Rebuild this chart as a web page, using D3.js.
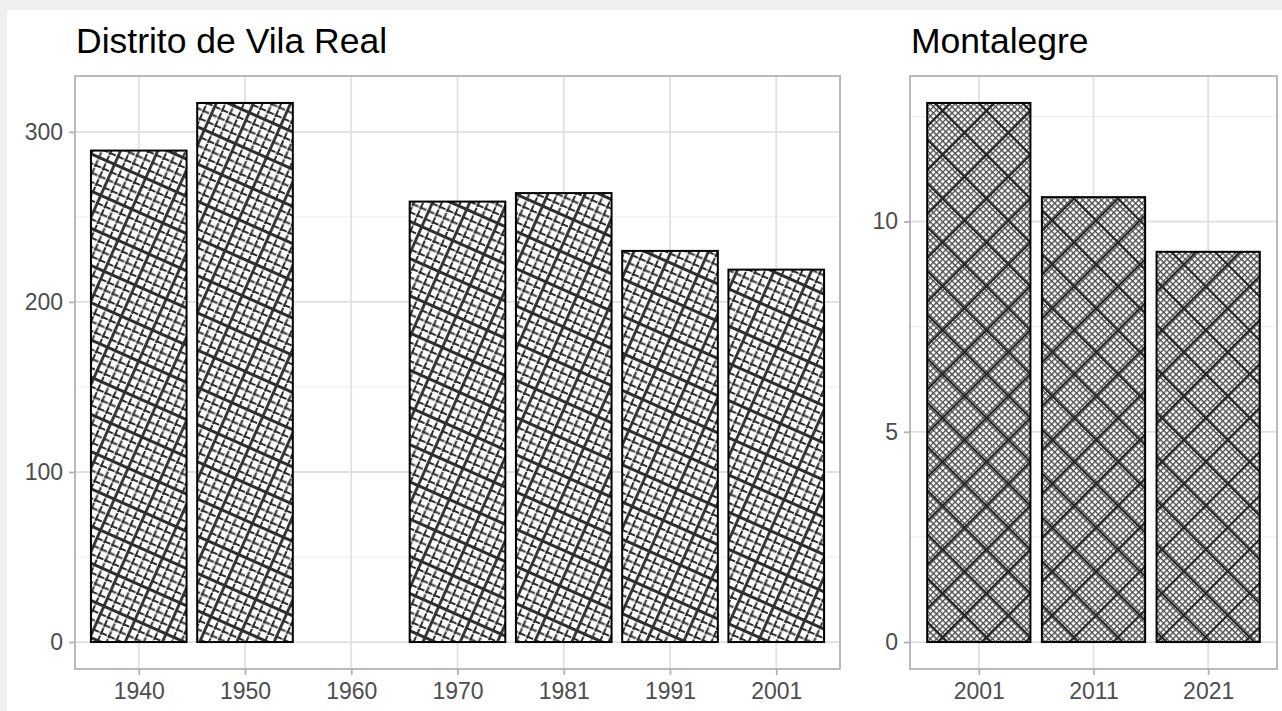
<!DOCTYPE html>
<html>
<head>
<meta charset="utf-8">
<script src="https://cdn.jsdelivr.net/npm/d3@7"></script>
<style>
  html, body { margin: 0; padding: 0; background: #f0f0f0; }
  svg { display: block; }
  text { font-family: "Liberation Sans", Arial, sans-serif; }
</style>
</head>
<body>
<div id="chart-container"></div>
<script>
// data
const districtYears = ["1940", "1950", "1960", "1970", "1981", "1991", "2001"];
const districtValues = [289, 317, null, 259, 264, 230, 219];
const districtTicks = [0, 100, 200, 300];
const districtMinor = [50, 150, 250];

const montalegreYears = ["2001", "2011", "2021"];
const montalegreValues = [12.82, 10.58, 9.28];
const montalegreTicks = [0, 5, 10];
const montalegreMinor = [2.5, 7.5, 12.5];

const width = 1282, height = 711;

const container = document.getElementById("chart-container");
const svg = d3.select(container)
  .append("svg")
    .attr("width", width)
    .attr("height", height)
    .attr("xmlns", "http://www.w3.org/2000/svg");

// white plot background, grey strip top and left
svg.append("rect")
  .attr("x", 0).attr("y", 0).attr("width", width).attr("height", height)
  .attr("fill", "#f0f0f0");
svg.append("rect")
  .attr("x", 7).attr("y", 10).attr("width", width - 7).attr("height", height - 10)
  .attr("fill", "#ffffff");

const defs = svg.append("defs");

// pattern for the district bars: slanted grid, a heavier line now and then
const cell = 8.5;
const gridPat = defs.append("pattern")
  .attr("id", "pat-grid")
  .attr("patternUnits", "userSpaceOnUse")
  .attr("width", cell * 4).attr("height", cell * 4)
  .attr("patternTransform", "rotate(24)");
gridPat.append("rect").attr("width", cell * 4).attr("height", cell * 4).attr("fill", "#fff");
for (let i = 0; i < 4; i++) {
  const p = i * cell + 1.5;
  const heavy = i == 0;
  gridPat.append("line")
    .attr("x1", 0).attr("x2", cell * 4).attr("y1", p).attr("y2", p)
    .attr("stroke", "#2e2e2e")
    .attr("stroke-width", heavy ? 3 : 2)
    .attr("stroke-dasharray", heavy ? null : "7.5 1");
  gridPat.append("line")
    .attr("y1", 0).attr("y2", cell * 4).attr("x1", p).attr("x2", p)
    .attr("stroke", "#2e2e2e")
    .attr("stroke-width", heavy ? 2.8 : 2)
    .attr("stroke-dasharray", heavy ? null : "7.5 1")
    .attr("stroke-dashoffset", 4);
}

// pattern for Montalegre: fine diagonal mesh with large diamonds on top
const meshPat = defs.append("pattern")
  .attr("id", "pat-mesh")
  .attr("patternUnits", "userSpaceOnUse")
  .attr("width", 4.4).attr("height", 4.4)
  .attr("patternTransform", "rotate(45)");
meshPat.append("rect").attr("width", 4.4).attr("height", 4.4).attr("fill", "#fff");
meshPat.append("path")
  .attr("d", "M0,0.7 H4.4 M0.7,0 V4.4")
  .attr("stroke", "#4a4a4a")
  .attr("stroke-width", 1.3);

const diamondPat = defs.append("pattern")
  .attr("id", "pat-diamond")
  .attr("patternUnits", "userSpaceOnUse")
  .attr("width", 31).attr("height", 31)
  .attr("patternTransform", "rotate(45)");
diamondPat.append("path")
  .attr("d", "M0,1 H31 M1,0 V31")
  .attr("stroke", "#262626")
  .attr("stroke-width", 2.2);

function drawPanel(opts) {
  const x0 = opts.left, x1 = opts.right, y0 = 76, y1 = 669;
  const n = opts.years.length;
  const maxVal = d3.max(opts.values);

  // ggplot style expansion: 0.6 units on discrete, 5% on continuous
  const x = d3.scaleLinear().domain([0.4, n + 0.6]).range([x0, x1]);
  const y = d3.scaleLinear().domain([-0.05 * maxVal, maxVal * 1.05]).range([y1, y0]);

  const g = svg.append("g");

  // grid
  g.selectAll(".minor-y")
    .data(opts.minor)
    .enter()
    .append("line")
      .attr("x1", x0).attr("x2", x1)
      .attr("y1", d => y(d)).attr("y2", d => y(d))
      .attr("stroke", "#ececec")
      .attr("stroke-width", 1);
  g.selectAll(".major-y")
    .data(opts.ticks)
    .enter()
    .append("line")
      .attr("x1", x0).attr("x2", x1)
      .attr("y1", d => y(d)).attr("y2", d => y(d))
      .attr("stroke", "#e0e0e0")
      .attr("stroke-width", 1.8);
  g.selectAll(".major-x")
    .data(opts.years)
    .enter()
    .append("line")
      .attr("x1", (d, i) => x(i + 1)).attr("x2", (d, i) => x(i + 1))
      .attr("y1", y0).attr("y2", y1)
      .attr("stroke", "#e0e0e0")
      .attr("stroke-width", 1.8);

  // bars
  const bars = opts.values
    .map((v, i) => ({ year: opts.years[i], value: v, pos: i + 1 }))
    .filter(d => d.value != null);

  opts.fills.forEach(function (fill, k) {
    g.selectAll(".bar-" + k)
      .data(bars)
      .enter()
      .append("rect")
        .attr("x", d => x(d.pos - 0.45))
        .attr("width", d => x(d.pos + 0.45) - x(d.pos - 0.45))
        .attr("y", d => y(d.value))
        .attr("height", d => y(0) - y(d.value))
        .attr("fill", fill);
  });
  g.selectAll(".bar-outline")
    .data(bars)
    .enter()
    .append("rect")
      .attr("x", d => x(d.pos - 0.45))
      .attr("width", d => x(d.pos + 0.45) - x(d.pos - 0.45))
      .attr("y", d => y(d.value))
      .attr("height", d => y(0) - y(d.value))
      .attr("fill", "none")
      .attr("stroke", "#000")
      .attr("stroke-width", 2);

  // panel border
  g.append("rect")
    .attr("x", x0).attr("y", y0)
    .attr("width", x1 - x0).attr("height", y1 - y0)
    .attr("fill", "none")
    .attr("stroke", "#b3b3b3")
    .attr("stroke-width", 1.8);

  // axes
  const yAxis = d3.axisLeft(y).tickValues(opts.ticks).tickSize(6).tickPadding(6).tickFormat(d3.format("d"));
  const yG = g.append("g").attr("transform", "translate(" + x0 + ",0)").call(yAxis);
  const xAxis = d3.axisBottom(x).tickValues(d3.range(1, n + 1)).tickSize(6).tickPadding(8)
    .tickFormat(d => opts.years[d - 1]);
  const xG = g.append("g").attr("transform", "translate(0," + y1 + ")").call(xAxis);

  [yG, xG].forEach(function (ax) {
    ax.select(".domain").remove();
    ax.selectAll(".tick line").attr("stroke", "#b3b3b3").attr("stroke-width", 1.8);
    ax.selectAll(".tick text")
      .attr("fill", "#4d4d4d")
      .style("font-size", "23px")
      .style("font-family", "'Liberation Sans', Arial, sans-serif");
  });

  // title
  g.append("text")
    .attr("x", x0 + 1)
    .attr("y", 53)
    .attr("fill", "#000")
    .style("font-size", "35.5px")
    .text(opts.title);
}

drawPanel({
  title: "Distrito de Vila Real",
  years: districtYears,
  values: districtValues,
  ticks: districtTicks,
  minor: districtMinor,
  left: 75, right: 840,
  fills: ["url(#pat-grid)"]
});

drawPanel({
  title: "Montalegre",
  years: montalegreYears,
  values: montalegreValues,
  ticks: montalegreTicks,
  minor: montalegreMinor,
  left: 910, right: 1277,
  fills: ["url(#pat-mesh)", "url(#pat-diamond)"]
});
</script>
</body>
</html>
